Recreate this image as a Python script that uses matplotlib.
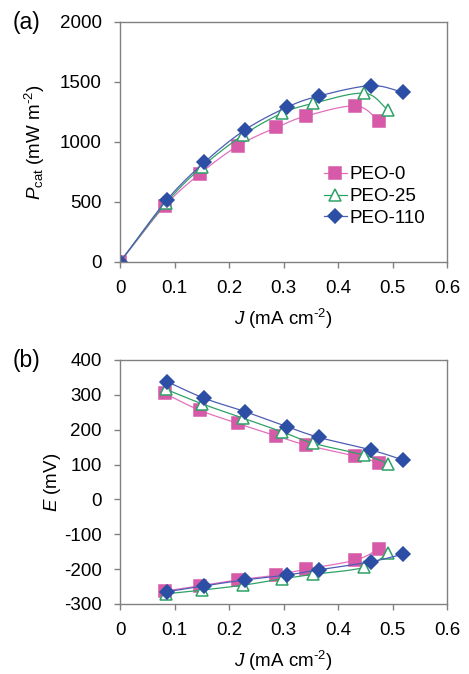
import numpy as np
import matplotlib
matplotlib.use("Agg")
import matplotlib.pyplot as plt

plt.rcParams['font.family'] = ['Liberation Sans', 'DejaVu Sans']
plt.rcParams['mathtext.fontset'] = 'custom'
plt.rcParams['mathtext.rm'] = 'Liberation Sans'
plt.rcParams['mathtext.it'] = 'Liberation Sans:italic'
plt.rcParams['axes.unicode_minus'] = False

# current density (mA cm-2)
j_peo0 = [0, 0.082, 0.146, 0.216, 0.287, 0.342, 0.432, 0.476]
j_peo25 = [0, 0.084, 0.151, 0.226, 0.297, 0.355, 0.448, 0.492]
j_peo110 = [0, 0.086, 0.155, 0.229, 0.306, 0.365, 0.460, 0.520]

# power density (mW m-2)
p_peo0 = [0, 467, 733, 967, 1122, 1217, 1300, 1178]
p_peo25 = [0, 490, 795, 1058, 1239, 1322, 1406, 1267]
p_peo110 = [0, 517, 831, 1100, 1289, 1383, 1469, 1414]

# cathode / anode potentials (mV), no point at J = 0
ec_peo0 = [304, 256, 218, 182, 156, 124, 105]
ea_peo0 = [-263, -248, -231, -217, -200, -174, -142]
ec_peo25 = [316, 274, 233, 194, 161, 127, 103]
ea_peo25 = [-271, -260, -246, -228, -215, -195, -155]
ec_peo110 = [338, 290, 252, 209, 178, 142, 113]
ea_peo110 = [-265, -248, -231, -217, -202, -179, -157]

labels = ['PEO-0', 'PEO-25', 'PEO-110']
FS = 13.5


def smooth(x, y, n=20):
    # catmull-rom curve through the points, like excel's smoothed line
    x = np.asarray(x, float)
    y = np.asarray(y, float)
    px = np.concatenate([[2 * x[0] - x[1]], x, [2 * x[-1] - x[-2]]])
    py = np.concatenate([[2 * y[0] - y[1]], y, [2 * y[-1] - y[-2]]])
    xs, ys = [], []
    t = np.linspace(0, 1, n)
    for i in range(1, len(px) - 2):
        for p, out in ((px, xs), (py, ys)):
            p0, p1, p2, p3 = p[i - 1], p[i], p[i + 1], p[i + 2]
            out.extend(0.5 * (2 * p1 + (-p0 + p2) * t
                              + (2 * p0 - 5 * p1 + 4 * p2 - p3) * t ** 2
                              + (-p0 + 3 * p1 - 3 * p2 + p3) * t ** 3))
    return xs, ys


styles = [
    dict(color='#e26fbd', mk='s', mfc='#d65aa8', mec='#d65aa8', ms=8.5),
    dict(color='#2ea266', mk='^', mfc='white', mec='#2ea266', ms=9),
    dict(color='#4d5db5', mk='D', mfc='#2d4ea5', mec='#2d4ea5', ms=7),
]


def draw(ax, x, y, st, label=None):
    sx, sy = smooth(x, y)
    ax.plot(sx, sy, color=st['color'], lw=0.9)
    ax.plot(x, y, linestyle='none', marker=st['mk'], ms=st['ms'],
            mfc=st['mfc'], mec=st['mec'], mew=1.1)
    if label:
        ax.plot([], [], color=st['color'], lw=0.9, marker=st['mk'], ms=st['ms'],
                mfc=st['mfc'], mec=st['mec'], mew=1.1, label=label)


def style_axes(ax):
    for s in ax.spines.values():
        s.set_color('#808080')
        s.set_linewidth(1.0)
    ax.tick_params(direction='out', length=4, width=1, color='#808080',
                   labelsize=FS, pad=9)
    ax.set_xlim(0, 0.6)
    ax.set_xticks(np.arange(0, 0.61, 0.1))
    ax.set_xticklabels(['0', '0.1', '0.2', '0.3', '0.4', '0.5', '0.6'])
    ax.set_xlabel(r'$J$ (mA cm$^{\text{-2}}$)', fontsize=FS, labelpad=7)


fig = plt.figure(figsize=(4.69, 6.74), dpi=100)
ax1 = fig.add_axes([0.2559, 0.6113, 0.6972, 0.3561])
ax2 = fig.add_axes([0.2559, 0.1039, 0.6972, 0.3620])

jj = [j_peo0, j_peo25, j_peo110]
for j, p, st, lab in zip(jj, [p_peo0, p_peo25, p_peo110], styles, labels):
    draw(ax1, j, p, st, lab)
ax1.set_ylim(0, 2000)
ax1.set_yticks(range(0, 2001, 500))
ax1.set_ylabel(r'$P_{\rm cat}$ (mW m$^{\text{-2}}$)', fontsize=FS, labelpad=9)
style_axes(ax1)
ax1.legend(loc='upper left', bbox_to_anchor=(0.6, 0.43), frameon=False,
           fontsize=FS, handlelength=1.25, handletextpad=0.15,
           labelspacing=0.25, borderaxespad=0)

for j, ec, ea, st in zip(jj, [ec_peo0, ec_peo25, ec_peo110],
                         [ea_peo0, ea_peo25, ea_peo110], styles):
    draw(ax2, j[1:], ec, st)
    draw(ax2, j[1:], ea, st)
ax2.set_ylim(-300, 400)
ax2.set_yticks(range(-300, 401, 100))
ax2.set_ylabel(r'$E$ (mV)', fontsize=FS, labelpad=1)
style_axes(ax2)

fig.text(13 / 469, 1 - 22 / 674, '(a)', fontsize=16.5, va='center')
fig.text(13 / 469, 1 - 360 / 674, '(b)', fontsize=16.5, va='center')

fig.savefig('out.png', dpi=100)
